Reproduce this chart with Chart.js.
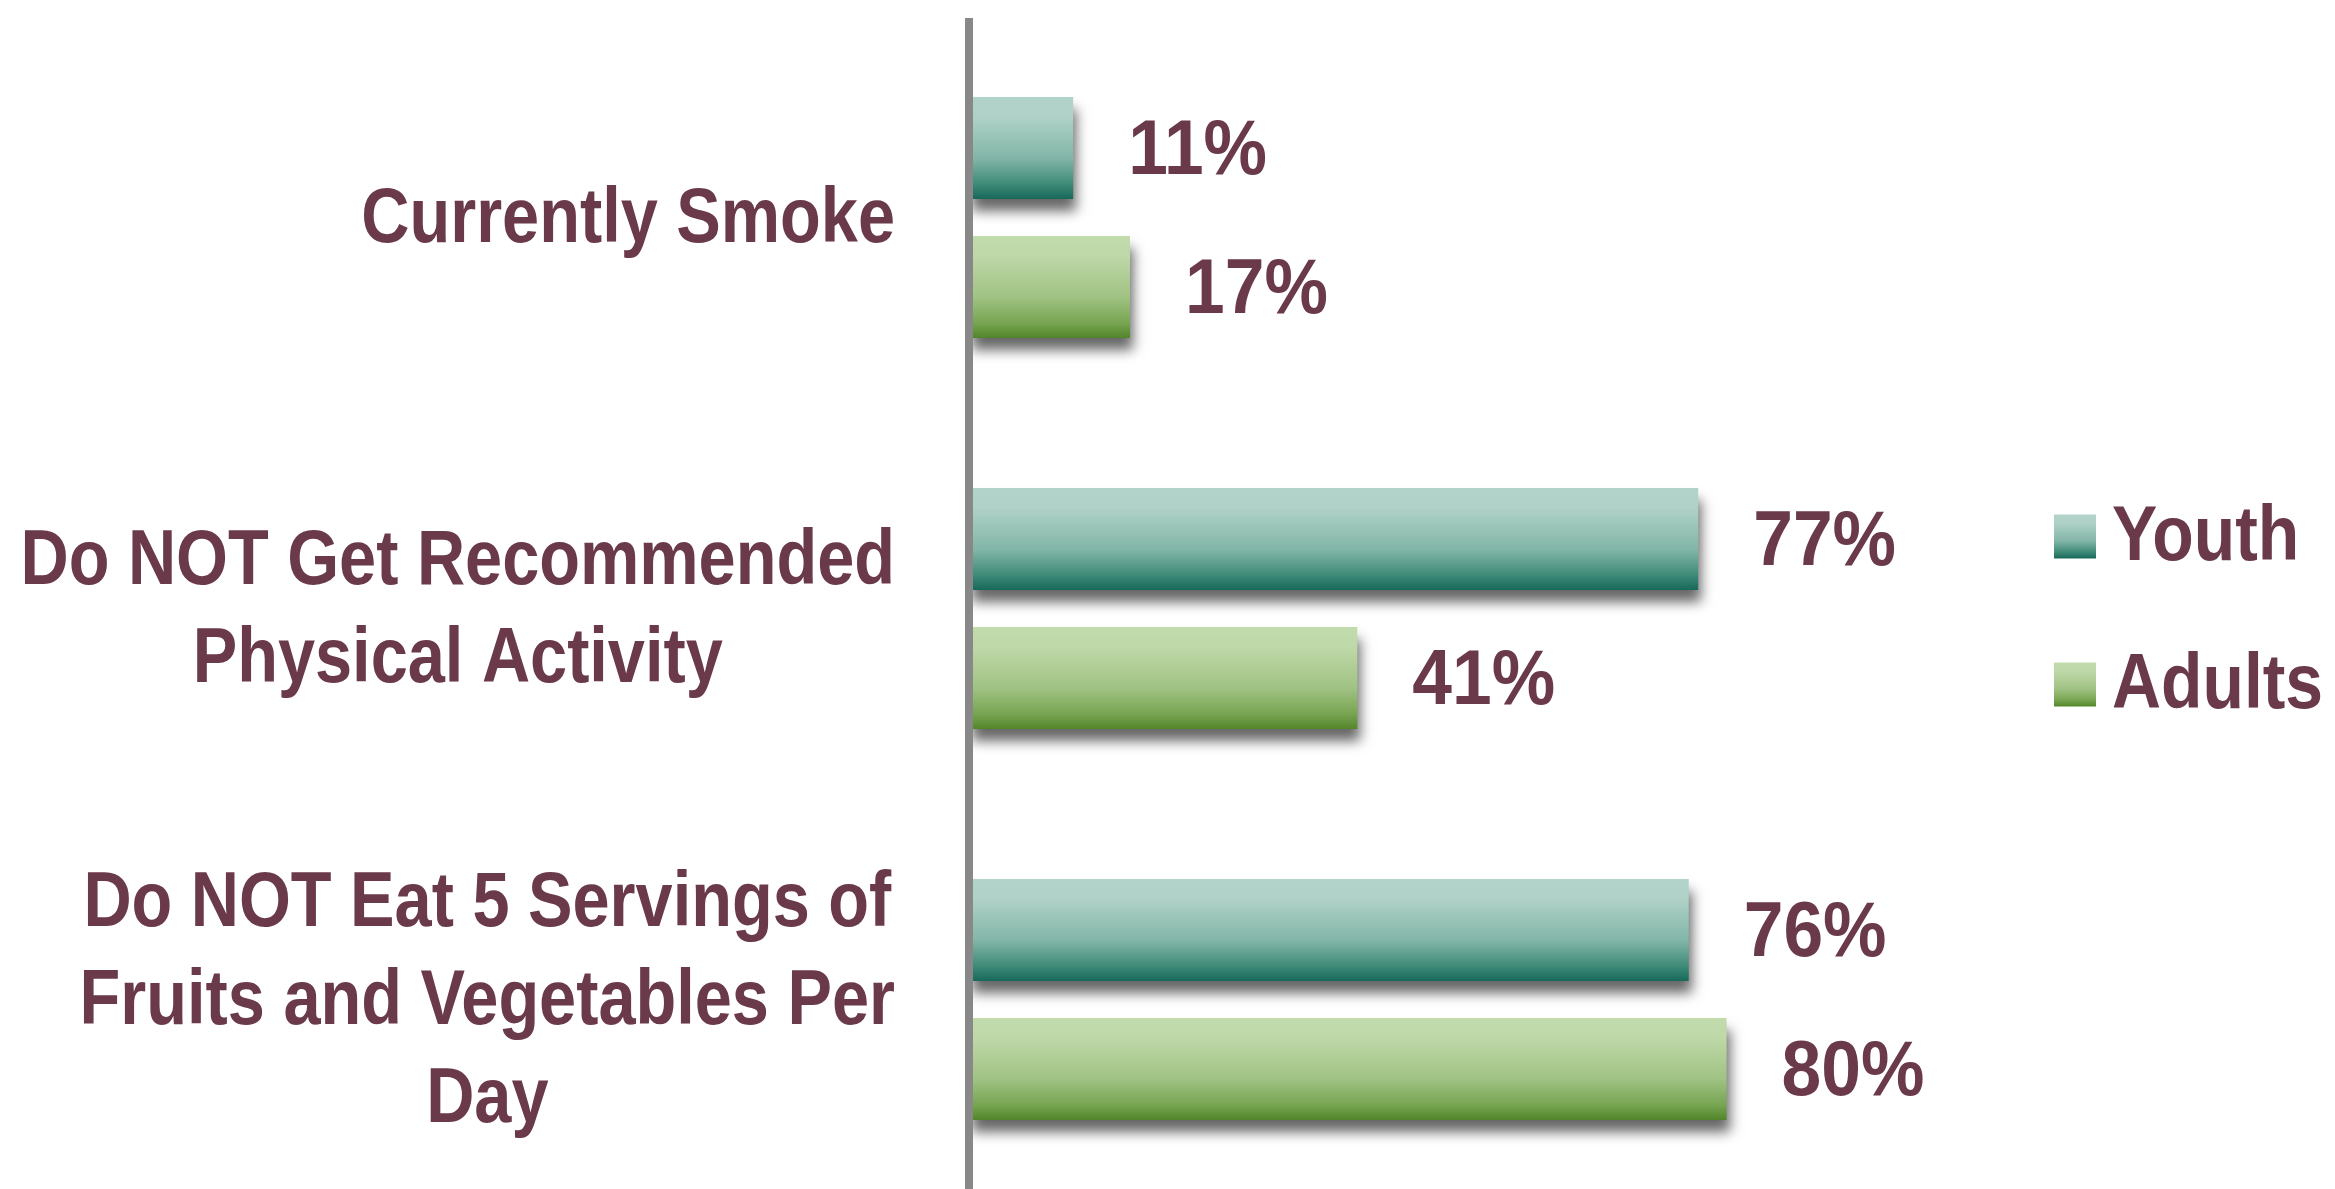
<!DOCTYPE html>
<html>
<head>
<meta charset="utf-8">
<script src="https://cdn.jsdelivr.net/npm/chart.js@4/dist/chart.umd.min.js"></script>
<style>
html,body{margin:0;padding:0;background:#ffffff;overflow:hidden}
#wrap{width:2335px;height:1200px;position:relative}
</style>
</head>
<body>
<div id="wrap"><canvas id="c"></canvas></div>
<script>
// ---- data ----
const categories = [
  ["Currently Smoke"],
  ["Do NOT Get Recommended", "Physical Activity"],
  ["Do NOT Eat 5 Servings of", "Fruits and Vegetables Per", "Day"]
];
const seriesNames = ["Youth", "Adults"];
const youthValues = [11, 77, 76];
const adultValues = [17, 41, 80];
const valueSuffix = "%";

// ---- styles ----
const FONT = 'bold 78px "Liberation Sans", Arial, sans-serif';
const TEXT_COLOR = '#6b3a4a';
const LABEL_SX = 0.855;   // horizontal condensing of label text
const LEGEND_SX = 0.87;
const VALUE_SX = 0.915;
const GRADS = [
  [[0, '#b2d3ca'], [0.2, '#afd1c7'], [0.6, '#82b6a8'], [0.85, '#408b79'], [1, '#17695a']],
  [[0, '#c2dbad'], [0.2, '#bed8a8'], [0.6, '#a0c283'], [0.85, '#78a552'], [1, '#52852a']]
];
const CAT_PCT = 0.711, BAR_PCT = 0.734;

function makeGrad(c, stops, top, bot) {
  const g = c.createLinearGradient(0, top, 0, bot);
  stops.forEach(s => g.addColorStop(s[0], s[1]));
  return g;
}

function gradientFor(ctx) {
  const chart = ctx.chart;
  const stops = GRADS[ctx.datasetIndex];
  const y = chart.scales.y;
  if (!chart.chartArea || !y || ctx.dataIndex === undefined) return stops[2][1];
  const catW = (y.bottom - y.top) / categories.length;
  const slot = catW * CAT_PCT / 2;
  const c = y.getPixelForValue(ctx.dataIndex) + (ctx.datasetIndex - 0.5) * slot;
  const half = slot * BAR_PCT / 2;
  return makeGrad(chart.ctx, stops, c - half, c + half);
}

function drawText(c, txt, x, y, align, sx) {
  c.save();
  c.translate(x, y);
  c.scale(sx, 1);
  c.textAlign = align;
  c.fillText(txt, 0, 0);
  c.restore();
}

const decorPlugin = {
  id: 'decor',
  beforeDatasetsDraw(chart) {
    const c = chart.ctx;
    c.save();
    c.shadowColor = 'rgba(0,0,0,0.6)';
    c.shadowBlur = 12;
    c.shadowOffsetX = 3;
    c.shadowOffsetY = 12;
  },
  afterDatasetsDraw(chart) {
    const c = chart.ctx;
    c.restore();
    c.save();
    c.fillStyle = TEXT_COLOR;
    c.font = FONT;
    c.textBaseline = 'middle';
    chart.data.datasets.forEach((ds, di) => {
      const meta = chart.getDatasetMeta(di);
      meta.data.forEach((bar, i) => {
        drawText(c, ds.data[i] + valueSuffix, bar.x + 55, bar.y + 4, 'left', VALUE_SX);
      });
    });
    c.restore();
  },
  afterDraw(chart) {
    const c = chart.ctx;
    const y = chart.scales.y;
    const area = chart.chartArea;
    c.save();
    c.fillStyle = TEXT_COLOR;
    c.font = FONT;
    c.textBaseline = 'middle';
    // category labels: block right-aligned, lines centred within the block
    const rightEdge = area.left - 74;
    const lineH = 98;
    chart.data.labels.forEach((lines, i) => {
      const cy = y.getPixelForValue(i);
      const w = Math.max(...lines.map(l => c.measureText(l).width)) * LABEL_SX;
      const cx = rightEdge - w / 2;
      const y0 = cy - (lines.length - 1) * lineH / 2;
      lines.forEach((l, k) => drawText(c, l, cx, y0 + k * lineH + 3, 'center', LABEL_SX));
    });
    // legend
    const midY = (area.top + area.bottom) / 2;
    const gap = 148;
    const boxX = area.right + 138;
    chart.data.datasets.forEach((ds, di) => {
      const by = midY + (di - 0.5) * gap + 2;
      const top = by - 22, bot = by + 22;
      c.fillStyle = makeGrad(c, GRADS[di], top, bot);
      c.fillRect(boxX, top, 42, 44);
      c.fillStyle = TEXT_COLOR;
      drawText(c, ds.label, boxX + 58, by + 2, 'left', LEGEND_SX);
    });
    c.restore();
  }
};

new Chart(document.getElementById('c'), {
  type: 'bar',
  data: {
    labels: categories,
    datasets: [
      { label: seriesNames[0], data: youthValues, backgroundColor: gradientFor, categoryPercentage: CAT_PCT, barPercentage: BAR_PCT },
      { label: seriesNames[1], data: adultValues, backgroundColor: gradientFor, categoryPercentage: CAT_PCT, barPercentage: BAR_PCT }
    ]
  },
  options: {
    indexAxis: 'y',
    responsive: true,
    maintainAspectRatio: false,
    animation: false,
    layout: { padding: { top: 22, bottom: 5, right: 419, left: 0 } },
    plugins: { legend: { display: false }, tooltip: { enabled: false } },
    scales: {
      x: { min: 0, max: 100, display: false },
      y: {
        type: 'category',
        ticks: { display: false },
        grid: { display: false },
        border: { display: true, color: '#888888', width: 8, z: 1 },
        afterFit(scale) { scale.width = 969; }
      }
    }
  },
  plugins: [decorPlugin]
});
</script>
</body>
</html>
